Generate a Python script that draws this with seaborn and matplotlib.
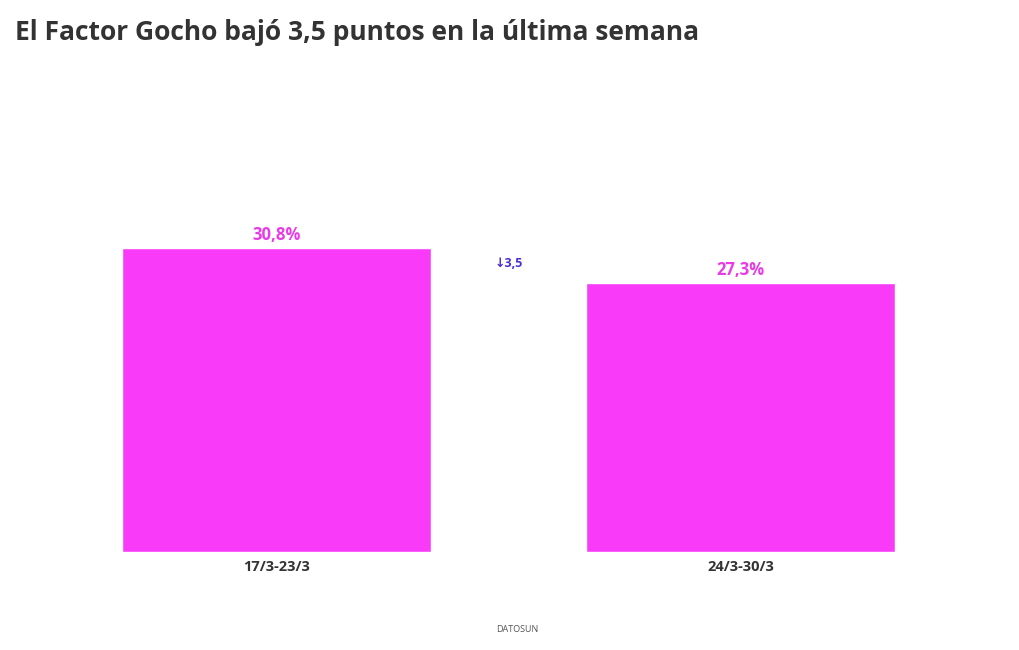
import matplotlib
matplotlib.use("Agg")
import matplotlib.pyplot as plt
import seaborn as sns
import pandas as pd

categories = ["17/3-23/3", "24/3-30/3"]
values = [30.8, 27.3]
labels = ["30,8%", "27,3%"]
change_label = "↓3,5"

sns.set_theme(style="white")
plt.rcParams['font.family'] = ['Open Sans', 'DejaVu Sans']

fig = plt.figure(figsize=(10.2, 6.5), dpi=100)
ax = fig.add_axes([44.5/1020, 1-552/650, 928/1020, 493.5/650])
df = pd.DataFrame({"cat": categories, "val": values})
sns.barplot(data=df, x="cat", y="val", color="#f93bf9", saturation=1, width=0.666, ax=ax)
ax.set_xlim(-0.5, 1.5)
ax.set_ylim(0, 50)
for i, (v, l) in enumerate(zip(values, labels)):
    ax.text(i, v + 0.4, l, ha="center", va="bottom", color="#e83be6", fontsize=12, fontweight="bold")
ax.text(0.5, (values[0]+values[1])/2 + 0.2, change_label, ha="center", va="center", color="#4b2dd0", fontsize=9, fontweight="bold")
ax.set_yticks([])
ax.set_xlabel(""); ax.set_ylabel("")
ax.tick_params(axis="x", length=0, pad=6, labelsize=10.5, labelcolor="#333333")
for t in ax.get_xticklabels():
    t.set_fontweight("bold")
for s in ax.spines.values():
    s.set_visible(False)

fig.text(15/1020, 1-32/650, "El Factor Gocho bajó 3,5 puntos en la última semana", fontsize=19, fontweight="bold", color="#333333", va="center", ha="left")
fig.text(517/1020, 1-629/650, "DATOSUN", fontsize=6.5, color="#555555", ha="center", va="center")
fig.savefig("out.png", dpi=100, facecolor="white")
